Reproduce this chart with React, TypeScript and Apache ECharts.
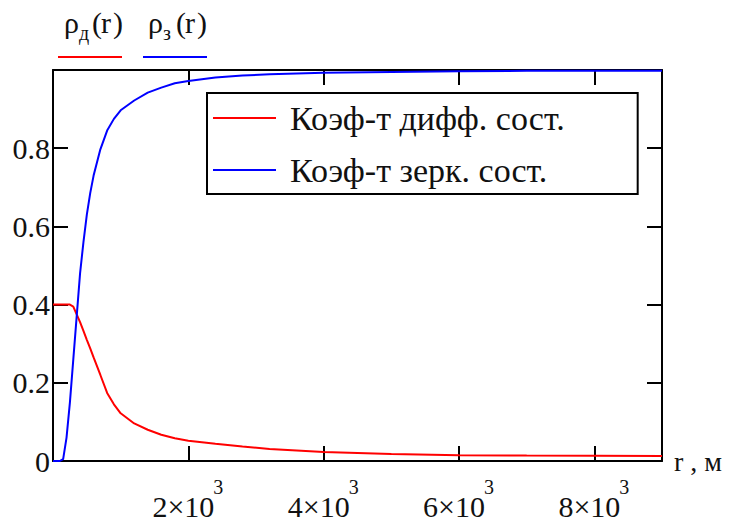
import React, { useEffect, useRef } from "react";
import * as echarts from "echarts";

const rValues = [0, 100, 150, 200, 250, 300, 350, 400, 450, 500, 550, 600, 700, 800, 900, 1000, 1200, 1400, 1600, 1800, 2000, 2400, 2800, 3200, 3600, 4000, 5000, 6000, 7000, 8000, 9000];
const diffuse = [0.4, 0.4, 0.4, 0.4, 0.4, 0.395, 0.375, 0.355, 0.333, 0.31, 0.288, 0.265, 0.22, 0.174, 0.145, 0.122, 0.096, 0.08, 0.067, 0.058, 0.052, 0.044, 0.037, 0.031, 0.027, 0.023, 0.018, 0.015, 0.014, 0.0135, 0.013];
const mirror = [0, 0, 0.005, 0.06, 0.15, 0.26, 0.37, 0.48, 0.56, 0.63, 0.685, 0.73, 0.797, 0.845, 0.875, 0.897, 0.922, 0.942, 0.955, 0.966, 0.972, 0.981, 0.986, 0.989, 0.991, 0.993, 0.995, 0.997, 0.998, 0.998, 0.998];
const seriesNames = ["Коэф-т дифф. сост.", "Коэф-т зерк. сост."];
const xTickLabels: Record<number, string> = { 2000: "{a|2×10}{s|3}", 4000: "{a|4×10}{s|3}", 6000: "{a|6×10}{s|3}", 8000: "{a|8×10}{s|3}" };
const yTickLabels: Record<string, string> = { "0": "0", "0.2": "0.2", "0.4": "0.4", "0.6": "0.6", "0.8": "0.8" };
const xAxisName = "r , м";
const traceLabels = ["{p|ρ}{s|д}{l|(}{r|r}{q|)}", "{p|ρ}{s|з}{l|(}{r|r}{q|)}"];

const FONT = "Liberation Serif";
const TXT = "#111";

export default function App() {
  const ref = useRef<HTMLDivElement>(null);
  useEffect(() => {
    if (!ref.current) return;
    const chart = echarts.init(ref.current, null, { renderer: "svg" });
    const axisLine = { show: true, onZero: false, lineStyle: { color: "#000", width: 2 } };
    const axisTick = { show: true, inside: true, length: 15, lineStyle: { color: "#000", width: 2 } };
    const traceRich = {
      p: { fontSize: 30, fontFamily: FONT, fill: TXT, lineHeight: 36, width: 15, verticalAlign: "top" },
      s: { fontSize: 20, fontFamily: FONT, fill: TXT, lineHeight: 36, width: 13, verticalAlign: "bottom" },
      l: { fontSize: 30, fontFamily: FONT, fill: TXT, lineHeight: 36, width: 9, verticalAlign: "top" },
      r: { fontSize: 30, fontFamily: FONT, fill: TXT, lineHeight: 36, width: 12, verticalAlign: "top" },
      q: { fontSize: 30, fontFamily: FONT, fill: TXT, lineHeight: 36, width: 10, verticalAlign: "top" },
    };
    chart.setOption({
      animation: false,
      backgroundColor: "#fff",
      textStyle: { fontFamily: FONT },
      grid: { left: 53, top: 70, right: 68, bottom: 60, containLabel: false },
      xAxis: [
        {
          type: "value", min: 0, max: 9000, interval: 2000, position: "bottom",
          axisLine, axisTick, splitLine: { show: false },
          name: xAxisName, nameLocation: "end", nameGap: 12,
          nameTextStyle: { fontSize: 28, fontFamily: FONT, color: TXT },
          axisLabel: {
            margin: 16,
            fontFamily: FONT,
            formatter: (v: number) => xTickLabels[v] ?? "",
            rich: {
              a: { fontSize: 30, fontFamily: FONT, color: TXT, lineHeight: 44, width: 60, verticalAlign: "bottom" },
              s: { fontSize: 20, fontFamily: FONT, color: TXT, lineHeight: 20, verticalAlign: "top" },
            },
          },
        },
        {
          type: "value", min: 0, max: 9000, interval: 2000, position: "top",
          axisLine, axisTick, splitLine: { show: false }, axisLabel: { show: false },
        },
      ],
      yAxis: [
        {
          type: "value", min: 0, max: 1, interval: 0.2, position: "left",
          axisLine, axisTick, splitLine: { show: false },
          axisLabel: {
            margin: 3,
            fontSize: 30, fontFamily: FONT, color: TXT,
            formatter: (v: number) => yTickLabels[String(Math.round(v * 10) / 10)] ?? "",
          },
        },
        {
          type: "value", min: 0, max: 1, interval: 0.2, position: "right",
          axisLine, axisTick, splitLine: { show: false }, axisLabel: { show: false },
        },
      ],
      legend: {
        show: true,
        orient: "vertical",
        left: 207, top: 93,
        selectedMode: false,
        icon: "rect",
        itemWidth: 63, itemHeight: 2,
        itemGap: 12,
        padding: [5, 73, 4, 6],
        borderColor: "#000", borderWidth: 2, backgroundColor: "#fff",
        textStyle: { fontSize: 34, fontFamily: FONT, color: TXT, lineHeight: 40, padding: [0, 0, 0, 9] },
        data: seriesNames,
      },
      series: [
        {
          name: seriesNames[0], type: "line", data: rValues.map((r, i) => [r, diffuse[i]]),
          showSymbol: false, symbol: "none", smooth: false,
          lineStyle: { color: "#ff0000", width: 2 }, itemStyle: { color: "#ff0000" },
          xAxisIndex: 0, yAxisIndex: 0,
        },
        {
          name: seriesNames[1], type: "line", data: rValues.map((r, i) => [r, mirror[i]]),
          showSymbol: false, symbol: "none", smooth: false,
          lineStyle: { color: "#0000ff", width: 2 }, itemStyle: { color: "#0000ff" },
          xAxisIndex: 0, yAxisIndex: 0,
        },
      ],
      graphic: [
        { type: "text", left: 64, top: 7, style: { text: traceLabels[0], rich: traceRich } },
        { type: "text", left: 148, top: 7, style: { text: traceLabels[1], rich: traceRich } },
        { type: "line", shape: { x1: 58, y1: 57, x2: 122, y2: 57 }, style: { stroke: "#ff0000", lineWidth: 2 } },
        { type: "line", shape: { x1: 143, y1: 57, x2: 207, y2: 57 }, style: { stroke: "#0000ff", lineWidth: 2 } },
      ],
    });
    return () => chart.dispose();
  }, []);
  return <div ref={ref} style={{ width: 730, height: 521, position: "absolute", left: 0, top: 0 }} />;
}
